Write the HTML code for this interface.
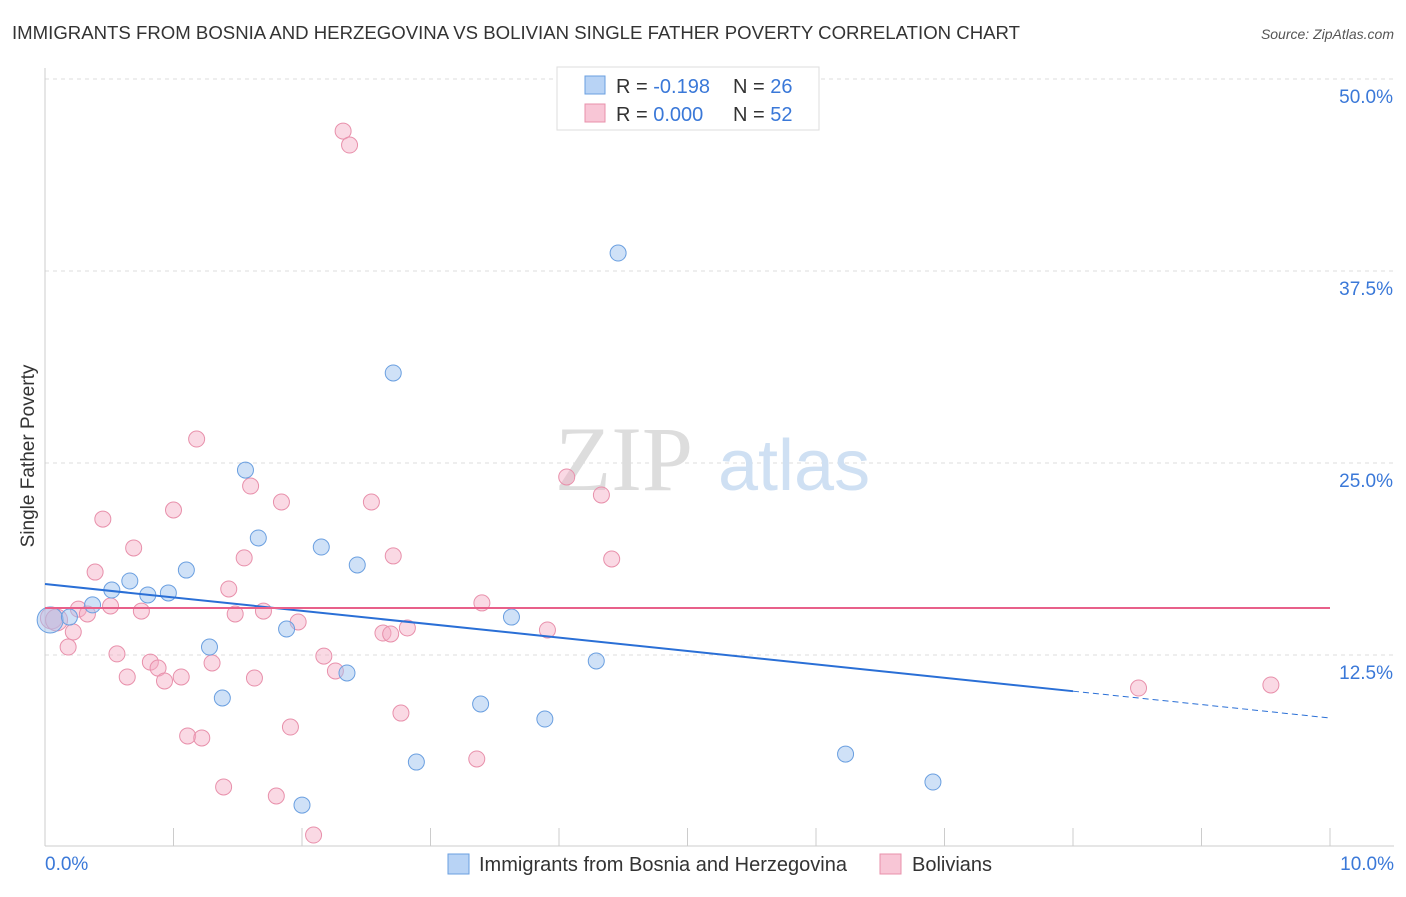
<!DOCTYPE html>
<html><head><meta charset="utf-8"><style>
body{margin:0;background:#fff;font-family:"Liberation Sans",sans-serif}
</style></head><body>
<svg id="c" width="1406" height="892" xmlns="http://www.w3.org/2000/svg" style="font-family:'Liberation Sans',sans-serif">
<text x="12" y="39" font-size="18" fill="#333" textLength="1008" lengthAdjust="spacingAndGlyphs">IMMIGRANTS FROM BOSNIA AND HERZEGOVINA VS BOLIVIAN SINGLE FATHER POVERTY CORRELATION CHART</text>
<text x="1394" y="39" font-size="14" fill="#555" font-style="italic" text-anchor="end">Source: ZipAtlas.com</text>
<text transform="translate(34,456) rotate(-90)" font-size="19" fill="#333" text-anchor="middle">Single Father Poverty</text>
<g id="grid"></g>
<g><text x="555" y="490" font-size="92" fill="#ddd" font-family="Liberation Serif,serif">ZIP</text><text x="718" y="490" font-size="72" fill="#cfe0f3">atlas</text></g>
<g id="marks"></g>
<g>
<rect x="557" y="67" width="262" height="63" fill="#fff" stroke="#ddd"/>
<rect x="585" y="76" width="20" height="18" fill="#b8d3f5" stroke="#6a9fe0"/>
<text x="616" y="93" font-size="20" fill="#333">R = <tspan fill="#3a78d8">-0.198</tspan></text>
<text x="733" y="93" font-size="20" fill="#333">N = <tspan fill="#3a78d8">26</tspan></text>
<rect x="585" y="104" width="20" height="18" fill="#f8c6d6" stroke="#e890ab"/>
<text x="616" y="121" font-size="20" fill="#333">R = <tspan fill="#3a78d8">0.000</tspan></text>
<text x="733" y="121" font-size="20" fill="#333">N = <tspan fill="#3a78d8">52</tspan></text>
</g>
<g>
<rect x="448" y="854" width="21" height="20" fill="#b8d3f5" stroke="#6a9fe0"/>
<text x="479" y="871" font-size="20" fill="#333">Immigrants from Bosnia and Herzegovina</text>
<rect x="880" y="854" width="21" height="20" fill="#f8c6d6" stroke="#e890ab"/>
<text x="912" y="871" font-size="20" fill="#333">Bolivians</text>
</g>
</svg>
<script>
const xTicks=[0,1,2,3,4,5,6,7,8,9,10];
const yTicks=[12.5,25,37.5,50];
const yTickLabels=["12.5%","25.0%","37.5%","50.0%"];
const blueX=[0.04,0.19,0.37,0.52,0.66,0.80,0.96,1.10,1.28,1.38,1.56,1.66,1.88,2.15,2.35,2.43,2.71,2.89,3.39,3.63,3.89,4.29,4.46,6.23,6.91,2.00];
const blueY=[14.78,14.97,15.76,16.73,17.32,16.41,16.54,18.03,13.02,9.70,24.54,20.12,14.19,19.53,11.33,18.36,30.86,5.53,9.31,14.97,8.33,12.11,38.67,6.05,4.23,2.73];
const pinkX=[0.05,0.09,0.18,0.22,0.26,0.33,0.39,0.45,0.51,0.56,0.64,0.69,0.75,0.82,0.88,0.93,1.00,1.06,1.11,1.18,1.22,1.30,1.39,1.43,1.48,1.55,1.60,1.63,1.70,1.80,1.84,1.91,1.97,2.09,2.17,2.26,2.32,2.37,2.54,2.63,2.69,2.71,2.77,2.82,3.36,3.40,3.91,4.06,4.33,4.41,8.51,9.54];
const pinkY=[14.91,14.78,13.02,14.00,15.49,15.17,17.90,21.35,15.69,12.57,11.07,19.47,15.36,12.04,11.65,10.81,21.94,11.07,7.23,26.56,7.10,11.98,3.91,16.80,15.17,18.82,23.50,11.00,15.36,3.32,22.46,7.81,14.65,0.78,12.43,11.46,46.61,45.70,22.46,13.93,13.87,18.95,8.72,14.26,5.73,15.89,14.13,24.09,22.92,18.75,10.35,10.55];
const blueTrend=[17.12,8.4];
const pinkTrend=[15.56,15.56];
const NS="http://www.w3.org/2000/svg";
const X=v=>45+v*128.5, Y=v=>847-v*15.36;
const svg=document.getElementById('c'),grid=document.getElementById('grid'),marks=document.getElementById('marks');
function mk(p,t,a){const e=document.createElementNS(NS,t);for(const k in a)e.setAttribute(k,a[k]);p.appendChild(e);return e;}
yTicks.forEach((t,i)=>{
 const l=mk(grid,'line',{x1:45,x2:1394,y1:Y(t),y2:Y(t),stroke:'#ddd','stroke-dasharray':'4,4'});
 
 
 const tx=mk(grid,'text',{x:1393,y:Y(t)+24,'font-size':19,fill:'#3a78d8','text-anchor':'end'});tx.textContent=yTickLabels[i];
 
 
});
mk(grid,'line',{x1:45,x2:45,y1:68,y2:846,stroke:'#ccc'});
mk(grid,'line',{x1:45,x2:1394,y1:846,y2:846,stroke:'#ccc'});
xTicks.forEach(t=>{const l=mk(grid,'line',{x1:X(t),x2:X(t),y1:828,y2:846,stroke:'#ccc'});
 
 });
const x0=mk(grid,'text',{x:45,y:870,'font-size':19,fill:'#3a78d8'});x0.textContent='0.0%';


const x1=mk(grid,'text',{x:1394,y:870,'font-size':19,fill:'#3a78d8','text-anchor':'end'});x1.textContent='10.0%';


pinkX.forEach((x,i)=>{const c=mk(marks,'circle',{cx:X(x),cy:Y(pinkY[i]),r:(i<2?11:8),fill:'rgba(245,170,196,0.45)',stroke:'#e890ab','stroke-width':1});
 
 });
blueX.forEach((x,i)=>{const c=mk(marks,'circle',{cx:X(x),cy:Y(blueY[i]),r:(i===0?13:8),fill:'rgba(160,196,240,0.5)',stroke:'#6a9fe0','stroke-width':1});
 
 });
const bAt=v=>blueTrend[0]+(blueTrend[1]-blueTrend[0])*v/10;
const bl=mk(marks,'line',{x1:X(0),y1:Y(bAt(0)),x2:X(8),y2:Y(bAt(8)),stroke:'#2a6fd6','stroke-width':2});


const bd=mk(marks,'line',{x1:X(8),y1:Y(bAt(8)),x2:X(10),y2:Y(bAt(10)),stroke:'#2a6fd6','stroke-width':1,'stroke-dasharray':'6,4'});


const pl=mk(marks,'line',{x1:X(0),y1:Y(pinkTrend[0]),x2:X(10),y2:Y(pinkTrend[1]),stroke:'#e8608a','stroke-width':2});


</script>
</body></html>
